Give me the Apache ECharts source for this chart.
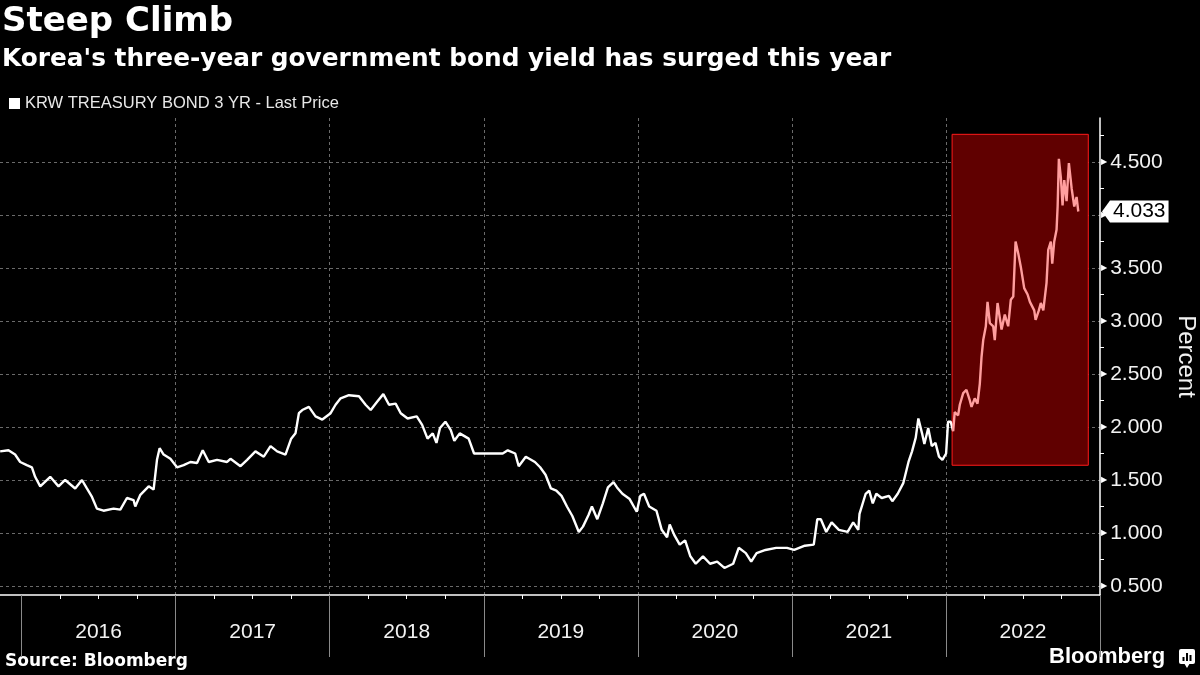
<!DOCTYPE html>
<html><head><meta charset="utf-8">
<script src="https://cdn.jsdelivr.net/npm/echarts@6/dist/echarts.min.js"></script>
<style>html,body{margin:0;padding:0;background:#000}#c{width:1200px;height:675px}</style>
</head><body><div id="c"></div>
<script>
const titleText = 'Steep Climb';
const subtitleText = "Korea's three-year government bond yield has surged this year";
const seriesName = 'KRW TREASURY BOND 3 YR - Last Price';
const sourceText = 'Source: Bloomberg';
const yAxisName = 'Percent';
const yearLabels = [2016, 2017, 2018, 2019, 2020, 2021, 2022];
// x positions as decimal years
const dates = [
2015.861,2015.915,2015.958,2015.991,2016.034,2016.067,2016.088,2016.121,2016.186,2016.240,
2016.283,2016.348,2016.392,2016.424,2016.457,2016.489,2016.532,2016.597,2016.641,2016.684,
2016.727,2016.738,2016.771,2016.825,2016.857,2016.879,2016.896,2016.922,2016.966,2017.009,
2017.052,2017.096,2017.139,2017.176,2017.215,2017.269,2017.334,2017.356,2017.421,2017.464,
2017.518,2017.572,2017.616,2017.659,2017.713,2017.750,2017.778,2017.800,2017.822,2017.865,
2017.908,2017.952,2018.006,2018.038,2018.071,2018.125,2018.190,2018.233,2018.266,2018.309,
2018.348,2018.385,2018.428,2018.461,2018.506,2018.565,2018.600,2018.635,2018.669,2018.693,
2018.716,2018.751,2018.786,2018.809,2018.844,2018.902,2018.937,2018.994,2019.065,2019.123,
2019.156,2019.204,2019.227,2019.273,2019.332,2019.366,2019.401,2019.436,2019.471,2019.505,
2019.540,2019.575,2019.617,2019.644,2019.680,2019.702,2019.737,2019.773,2019.806,2019.842,
2019.865,2019.900,2019.947,2019.993,2020.016,2020.040,2020.074,2020.121,2020.155,2020.190,
2020.207,2020.237,2020.272,2020.307,2020.341,2020.376,2020.423,2020.469,2020.515,2020.562,
2020.619,2020.655,2020.701,2020.736,2020.771,2020.829,2020.898,2020.968,2021.015,2021.084,
2021.142,2021.165,2021.188,2021.223,2021.258,2021.305,2021.362,2021.398,2021.431,2021.439,
2021.479,2021.502,2021.525,2021.548,2021.583,2021.630,2021.652,2021.687,2021.723,2021.757,
2021.780,2021.804,2021.821,2021.845,2021.860,2021.885,2021.908,2021.932,2021.955,2021.977,
2022.001,2022.014,2022.031,2022.047,2022.057,2022.079,2022.090,2022.112,2022.133,2022.155,
2022.166,2022.187,2022.205,2022.220,2022.231,2022.242,2022.259,2022.270,2022.285,2022.307,
2022.317,2022.335,2022.361,2022.382,2022.404,2022.421,2022.437,2022.452,2022.469,2022.486,
2022.508,2022.530,2022.545,2022.573,2022.582,2022.603,2022.616,2022.632,2022.653,2022.664,
2022.681,2022.690,2022.703,2022.718,2022.725,2022.733,2022.746,2022.757,2022.768,2022.783,
2022.798,2022.816,2022.833,2022.848,2022.859
];
const yields = [
1.77,1.78,1.74,1.67,1.64,1.62,1.53,1.44,1.53,1.44,
1.50,1.42,1.50,1.42,1.34,1.23,1.21,1.23,1.22,1.33,
1.31,1.25,1.36,1.44,1.41,1.69,1.80,1.74,1.70,1.62,
1.64,1.67,1.66,1.78,1.67,1.69,1.67,1.70,1.63,1.69,
1.77,1.72,1.82,1.77,1.74,1.89,1.94,2.13,2.16,2.19,
2.10,2.07,2.13,2.21,2.27,2.30,2.29,2.21,2.16,2.24,
2.31,2.21,2.22,2.13,2.08,2.10,2.02,1.89,1.94,1.85,
1.99,2.05,1.97,1.87,1.94,1.89,1.75,1.75,1.75,1.75,
1.78,1.75,1.63,1.72,1.67,1.62,1.55,1.42,1.40,1.35,
1.25,1.16,1.01,1.06,1.17,1.25,1.13,1.28,1.43,1.48,
1.43,1.37,1.32,1.20,1.35,1.37,1.25,1.21,1.03,0.96,
1.08,0.98,0.89,0.93,0.78,0.71,0.78,0.71,0.73,0.67,
0.71,0.86,0.81,0.73,0.81,0.84,0.86,0.86,0.84,0.88,
0.89,1.13,1.13,1.01,1.10,1.03,1.01,1.10,1.03,1.18,
1.37,1.40,1.28,1.37,1.33,1.35,1.30,1.37,1.47,1.67,
1.77,1.90,2.08,1.94,1.84,1.99,1.82,1.85,1.72,1.69,
1.75,2.05,2.05,1.96,2.14,2.11,2.21,2.32,2.35,2.25,
2.19,2.27,2.22,2.41,2.66,2.82,2.95,3.18,2.98,2.95,
2.82,3.17,2.92,3.06,2.95,3.20,3.23,3.75,3.64,3.51,
3.31,3.25,3.18,3.10,3.01,3.10,3.17,3.10,3.36,3.67,
3.75,3.54,3.75,3.86,4.08,4.53,4.35,4.09,4.33,4.13,
4.49,4.25,4.08,4.17,4.033
];
// highlighted box (decimal years, percent)
const highlightX = [2022.040, 2022.924];
const highlightY = [1.639, 4.761];

const X_MIN = 2015.86, X_MAX = 2023;
const Y_MIN = 0.415, Y_MAX = 4.915;
const lastValue = yields[yields.length - 1];
const labelFont = "'Liberation Sans', Arial, sans-serif";
const boldFont = "'DejaVu Sans', sans-serif";

const chart = echarts.init(document.getElementById('c'), null, {renderer: 'canvas'});
chart.setOption({
  backgroundColor: '#000',
  animation: false,
  title: [
    {text: titleText, left: 2, top: 5, padding: 0,
     textStyle: {color: '#fff', fontSize: 34, fontWeight: 'bold', fontFamily: boldFont}},
    {text: subtitleText, left: 2, top: 47, padding: 0,
     textStyle: {color: '#fff', fontSize: 24.8, fontWeight: 'bold', fontFamily: boldFont}}
  ],
  legend: {
    left: 9, top: 95, padding: 0, itemWidth: 11, itemHeight: 11, itemGap: 5,
    data: [{name: seriesName, icon: 'rect', itemStyle: {color: '#fff'}}],
    textStyle: {color: '#e8e8e8', fontSize: 16.5, fontFamily: labelFont}
  },
  grid: {left: 0, right: 100, top: 118, bottom: 80, containLabel: false, outerBoundsMode: 'none'},
  xAxis: {
    type: 'value', min: X_MIN, max: X_MAX, minInterval: 1, maxInterval: 1,
    axisLine: {show: true, lineStyle: {color: '#fff', width: 1.5}},
    axisTick: {show: true, length: 62, customValues: yearLabels.concat([yearLabels[yearLabels.length - 1] + 1]),
               lineStyle: {color: '#8a8a8a', width: 1}},
    minorTick: {show: true, splitNumber: 4, length: 4, lineStyle: {color: '#fff', width: 1}},
    splitLine: {show: true, showMinLine: false, showMaxLine: false,
                lineStyle: {color: '#6a6a6a', width: 1, type: [3, 3]}},
    axisLabel: {customValues: yearLabels.map(y => y + 0.5), formatter: v => String(Math.floor(v)),
                margin: 27, color: '#f2f2f2', fontSize: 21, fontFamily: labelFont}
  },
  yAxis: {
    type: 'value', position: 'right', min: Y_MIN, max: Y_MAX, minInterval: 0.5, maxInterval: 0.5,
    axisLine: {show: true, lineStyle: {color: '#fff', width: 1.5}},
    axisTick: {show: false},
    minorTick: {show: true, splitNumber: 2, length: 4, lineStyle: {color: '#fff', width: 1}},
    splitLine: {show: true, showMinLine: false, showMaxLine: false,
                lineStyle: {color: '#6a6a6a', width: 1, type: [3, 3]}},
    axisLabel: {
      showMinLabel: false, showMaxLabel: false, margin: 1,
      formatter: v => '{t|▶}{v|' + v.toFixed(3) + '}',
      rich: {
        t: {fontSize: 8, fontFamily: "'DejaVu Sans'", color: '#fff'},
        v: {fontSize: 21, fontFamily: labelFont, color: '#f2f2f2', padding: [0, 0, 0, 3]}
      }
    },
    name: yAxisName, nameLocation: 'middle', nameRotate: -90, nameGap: 73,
    nameTextStyle: {color: '#f2f2f2', fontSize: 24, fontFamily: labelFont}
  },
  visualMap: {
    show: false, type: 'piecewise', dimension: 0, seriesIndex: 0,
    pieces: [{gte: highlightX[0], lte: highlightX[1], color: '#ff9e9e'}],
    outOfRange: {color: '#ffffff'}
  },
  series: [{
    type: 'line', name: seriesName,
    data: dates.map((d, i) => [d, yields[i]]),
    showSymbol: false, symbol: 'none', clip: false, z: 3,
    lineStyle: {width: 2.4},
    markArea: {
      silent: true,
      itemStyle: {color: '#600000', borderColor: '#ff1a1a', borderWidth: 1},
      data: [[{coord: [highlightX[0], highlightY[1]]}, {coord: [highlightX[1], highlightY[0]]}]]
    },
    markLine: {
      silent: true, symbol: 'none', precision: 3, lineStyle: {color: 'rgba(0,0,0,0)', width: 0},
      label: {show: true, position: 'end', distance: 10, formatter: () => lastValue.toFixed(3),
              backgroundColor: '#fff', color: '#000', fontSize: 21, fontFamily: labelFont,
              padding: [1, 3, 0, 3]},
      data: [{yAxis: lastValue}]
    },
    markPoint: {
      silent: true, symbol: 'triangle', symbolSize: [22, 8], symbolRotate: 90, symbolOffset: [6, 0],
      itemStyle: {color: '#fff'}, label: {show: false},
      data: [{coord: [X_MAX, lastValue]}]
    }
  }],
  graphic: [
    {type: 'text', left: 5, top: 653, style: {text: sourceText, fill: '#fff', font: "bold 17px 'DejaVu Sans'"}},
    {type: 'text', left: 1049, top: 646, style: {text: 'Bloomberg', fill: '#fff', font: "bold 22px 'Liberation Sans'"}},
    {type: 'group', left: 1179, top: 649, children: [
      {type: 'rect', shape: {x: 0, y: 0, width: 16, height: 15, r: 2}, style: {fill: '#fff'}},
      {type: 'polygon', shape: {points: [[5, 14], [11, 14], [8, 19]]}, style: {fill: '#fff'}},
      {type: 'rect', shape: {x: 3.5, y: 8, width: 2, height: 4}, style: {fill: '#000'}},
      {type: 'rect', shape: {x: 7, y: 4, width: 2, height: 8}, style: {fill: '#000'}},
      {type: 'rect', shape: {x: 10.5, y: 6, width: 2, height: 6}, style: {fill: '#000'}}
    ]}
  ]
});
</script>
</body></html>
